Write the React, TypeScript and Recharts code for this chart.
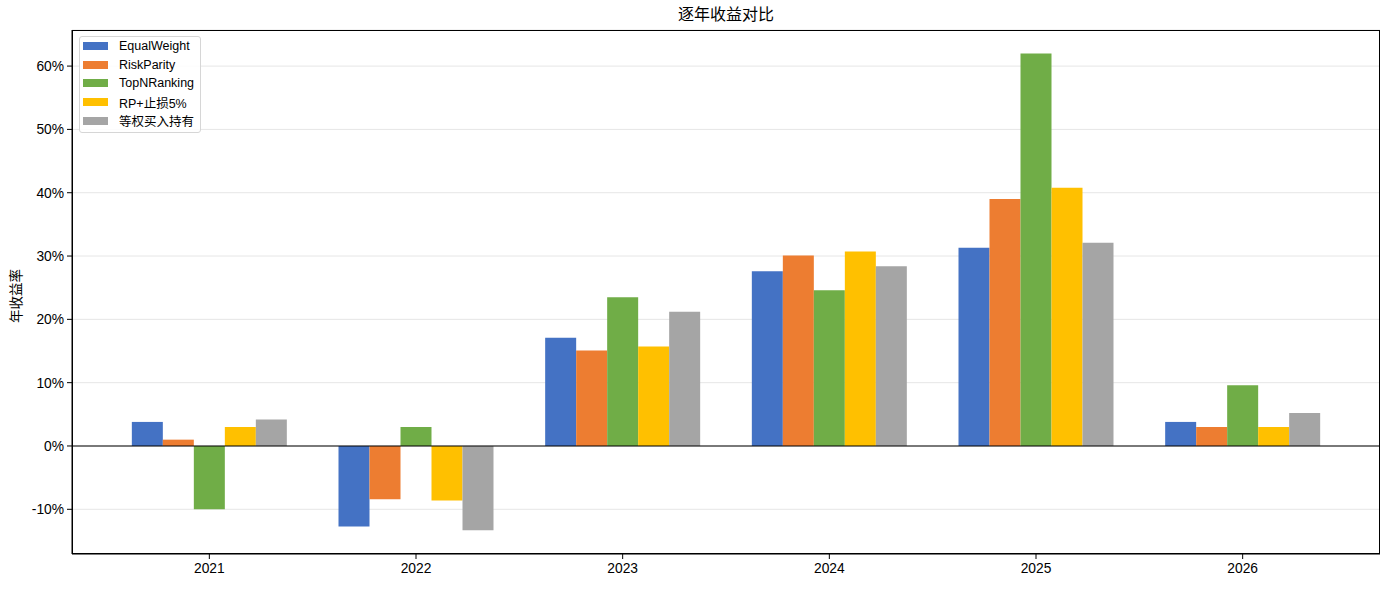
import React from "react";
import { BarChart, Bar, XAxis, YAxis, CartesianGrid, ReferenceLine, Legend } from "recharts";

const years = ["2021", "2022", "2023", "2024", "2025", "2026"];
const equalWeight = [3.8, -12.7, 17.1, 27.6, 31.3, 3.8];
const riskParity = [1.0, -8.4, 15.1, 30.1, 39.0, 3.0];
const topNRanking = [-10.0, 3.0, 23.5, 24.6, 62.0, 9.6];
const rpStopLoss = [3.0, -8.6, 15.7, 30.7, 40.8, 3.0];
const eqBuyHold = [4.2, -13.3, 21.2, 28.4, 32.1, 5.2];
const yTicks = [-10, 0, 10, 20, 30, 40, 50, 60];

const series = [
  { key: "EqualWeight", values: equalWeight, color: "#4472C4" },
  { key: "RiskParity", values: riskParity, color: "#ED7D31" },
  { key: "TopNRanking", values: topNRanking, color: "#70AD47" },
  { key: "RP+止损5%", values: rpStopLoss, color: "#FFC000" },
  { key: "等权买入持有", values: eqBuyHold, color: "#A5A5A5" },
];

const data = years.map((year, i) => {
  const row: Record<string, any> = { year };
  series.forEach((s) => (row[s.key] = s.values[i]));
  return row;
});

const FONT = 'Arial, "Liberation Sans", "Noto Sans CJK SC", sans-serif';

const LegendBox = () => (
  <div
    style={{
      border: "1px solid #d6d6d6",
      borderRadius: 3,
      background: "rgba(255,255,255,0.85)",
      padding: "0px 4px 2px 3px",
      width: 122,
      boxSizing: "border-box",
      textAlign: "left",
      whiteSpace: "nowrap",
    }}
  >
    {series.map((s) => (
      <div key={s.key} style={{ display: "flex", alignItems: "center", height: 18.6, fontSize: 12.5, color: "#000" }}>
        <span style={{ display: "inline-block", flex: "0 0 25px", width: 25, height: 8, background: s.color, marginRight: 11 }} />
        <span>{s.key}</span>
      </div>
    ))}
  </div>
);

const YLabel = (props: any) => {
  const vb = props.viewBox || { x: 0, y: 30, width: 72, height: 524 };
  const cx = 16;
  const cy = vb.y + vb.height / 2 + 4;
  return (
    <text x={cx} y={cy} transform={`rotate(-90 ${cx} ${cy})`} textAnchor="middle" dominantBaseline="central" fontSize={13.5} fill="#000">
      年收益率
    </text>
  );
};

export default function App() {
  return (
    <div style={{ position: "absolute", left: 0, top: 0, width: 1390, height: 589, background: "#fff", fontFamily: FONT }}>
      <div style={{ position: "absolute", top: 5, left: 72, width: 1308, textAlign: "center", fontSize: 16, lineHeight: "20px", color: "#000" }}>
        逐年收益对比
      </div>
      <BarChart
        width={1390}
        height={589}
        data={data}
        margin={{ top: 30, right: 10, left: 0, bottom: 0 }}
        barCategoryGap="12.5%"
        barGap={0}
      >
        <CartesianGrid vertical={false} stroke="#e6e6e6" strokeWidth={1} />
        <XAxis
          dataKey="year"
          height={35}
          padding={{ left: 34, right: 34 }}
          tickSize={5}
          tickLine={{ stroke: "#000" }}
          axisLine={{ stroke: "#000" }}
          tick={{ fill: "#000", fontSize: 13.8 }}
          tickMargin={4}
        />
        <YAxis
          width={72}
          domain={[-17.06, 65.7]}
          allowDataOverflow
          ticks={yTicks}
          tickFormatter={(v: number) => `${v}%`}
          tickSize={5}
          tickLine={{ stroke: "#000" }}
          axisLine={{ stroke: "#000" }}
          tick={{ fill: "#000", fontSize: 13.8 }}
          tickMargin={3}
          label={<YLabel />}
        />
        <Legend
          layout="vertical"
          align="center"
          verticalAlign="middle"
          content={() => <LegendBox />}
          wrapperStyle={{ left: 79, top: 36, width: 122, height: "auto" }}
        />
        {series.map((s) => (
          <Bar key={s.key} dataKey={s.key} fill={s.color} isAnimationActive={false} />
        ))}
        <ReferenceLine y={0} stroke="#000" strokeWidth={1.2} />
      </BarChart>
      <div
        style={{
          position: "absolute",
          left: 72,
          top: 30,
          width: 1308,
          height: 524,
          border: "1px solid #000",
          boxSizing: "border-box",
          pointerEvents: "none",
        }}
      />
    </div>
  );
}
